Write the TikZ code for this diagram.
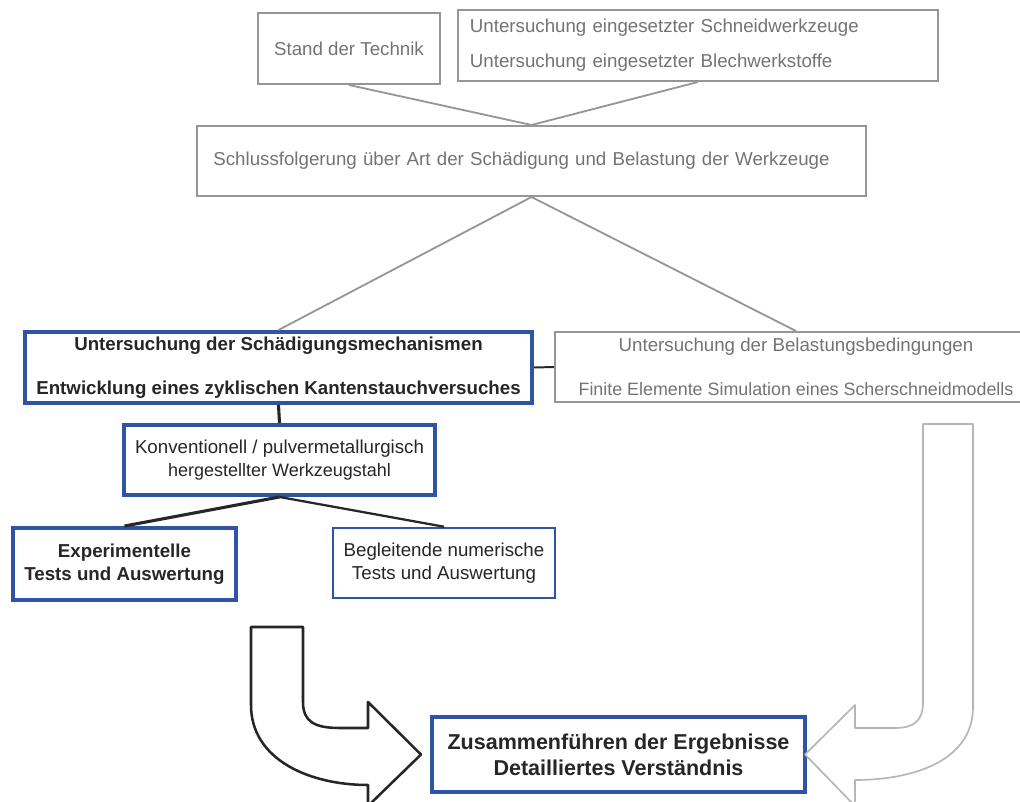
\documentclass[tikz,border=0pt]{standalone}
\usepackage{fontspec}
\setmainfont{Liberation Sans}
\usepackage{tikz}
\usetikzlibrary{
    arrows.meta,
    calc
}
\definecolor{boBlue}{RGB}{47,84,165}
\definecolor{boGray}{RGB}{150,150,150}
\definecolor{txtGray}{RGB}{115,115,115}
\tikzset{
  graybox/.style = {draw=boGray, line width=1.4pt, text=txtGray, inner sep=0pt,
                    align=center, font=\fontsize{13.3}{16}\selectfont},
  bluebox/.style = {draw=boBlue, line width=2.8pt, text=black!85, inner sep=0pt,
                    align=center, font=\fontsize{13.3}{16}\selectfont},
  gline/.style   = {boGray, line width=1.3pt},
  bline/.style   = {black!85, line width=2.2pt}
}

\begin{document}
\begin{tikzpicture}[
  x=0.025cm, y=-0.025cm,
  bigarr/.style={line width=1.8pt, black!85, fill=white, line join=round},
  bigarrg/.style={line width=1.2pt, boGray!70, fill=white, line join=round}
]
\useasboundingbox (0,0) rectangle (1020,802);
\clip (0,0) rectangle (1020,802);

%% --- Row 1: Ausgangslage ---
\node[graybox, minimum width=4.55cm, minimum height=1.775cm] (stand) at (349,48.5)
  {Stand der Technik};

\node[graybox, minimum width=12cm, minimum height=1.775cm, text width=11.4cm,
      align=left, font=\fontsize{13.3}{25}\selectfont] (werk) at (698,45.5)
  {Untersuchung eingesetzter Schneidwerkzeuge\\
   Untersuchung eingesetzter Blechwerkstoffe};

%% --- Row 2 ---
\node[graybox, minimum width=16.725cm, minimum height=1.75cm, text width=15.9cm,
      align=left] (schluss) at (531.5,161)
  {Schlussfolgerung über Art der Schädigung und Belastung der Werkzeuge};

%% --- Row 3: zwei Zweige ---
\node[bluebox, minimum width=12.675cm, minimum height=1.775cm,
      font=\bfseries\fontsize{13.3}{31}\selectfont] (schaed) at (278.5,367.5)
  {Untersuchung der Schädigungsmechanismen\\
   Entwicklung eines zyklischen Kantenstauchversuches};

\node[graybox, minimum width=12.05cm, minimum height=1.75cm,
      font=\fontsize{13.3}{31}\selectfont] (belast) at (796,367)
  {Untersuchung der Belastungsbedingungen\\
   {\fontsize{12.7}{31}\selectfont Finite Elemente Simulation eines Scherschneidmodells}};

%% --- Row 4 ---
\node[bluebox, minimum width=7.775cm, minimum height=1.75cm,
      font=\fontsize{13.3}{16}\selectfont] (konv) at (279.5,460)
  {Konventionell / pulvermetallurgisch\\
   {\fontsize{12.8}{16}\selectfont hergestellter Werkzeugstahl}};

%% --- Row 5 ---
\node[bluebox, minimum width=5.575cm, minimum height=1.8cm,
      font=\bfseries\fontsize{13.3}{16}\selectfont] (exper) at (124.5,564)
  {Experimentelle\\Tests und Auswertung};

\node[bluebox, line width=1.8pt, minimum width=5.55cm, minimum height=1.75cm,
      font=\fontsize{13.3}{16}\selectfont] (begl) at (444,563)
  {Begleitende numerische\\Tests und Auswertung};

%% --- Ergebnis ---
\node[bluebox, minimum width=9.325cm, minimum height=1.875cm,
      font=\bfseries\fontsize{15.3}{18.5}\selectfont] (zus) at (618.5,754.5)
  {Zusammenführen der Ergebnisse\\Detailliertes Verständnis};

%% --- Verbindungen ---
\draw[gline] (stand.south)   -- (schluss.north);
\draw[gline] (werk.south)    -- (schluss.north);
\draw[gline] (schluss.south) -- (schaed.north);
\draw[gline] (schluss.south) -- (belast.north);

\draw[bline, line width=1.4pt] (schaed.east) -- (belast.west);
\draw[bline] (schaed.south) -- (konv.north);
\draw[bline] (konv.south)   -- (exper.north);
\draw[bline, line width=1.6pt] (konv.south) -- (begl.north);

%% --- breite Pfeile zum Ergebnis ---
%% links: aus den Tests, nach unten und rechts in den Ergebnisblock
\draw[bigarr]
  (251,627) -- (303,627) -- (303,702)
  .. controls (303,722) and (315,728) .. (340,728)
  -- (368,728) -- (368,702)
  -- ($(zus.west)+(-9,0)$)                 % Spitze vor dem Block
  -- (368,806) -- (368,785)
  .. controls (310,785) and (251,760) .. (251,705)
  -- cycle;

%% rechts: aus der Simulation, nach unten und links
\draw[bigarrg]
  (923,424) -- (973,424) -- (973,707)
  .. controls (973,760) and (915,780) .. (855,780)
  -- (855,806)
  -- ($(zus.east)+(-2,0)$)
  -- (855,705) -- (855,728) -- (895,728)
  .. controls (915,728) and (923,720) .. (923,702)
  -- cycle;

\end{tikzpicture}
\end{document}
